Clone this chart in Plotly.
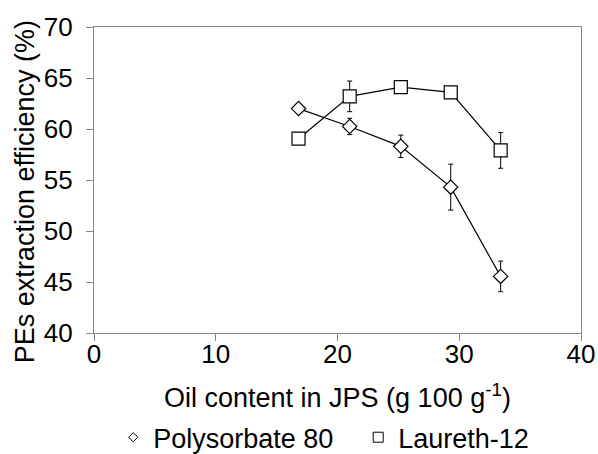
import plotly.graph_objects as go

oil_content = [16.8, 21.0, 25.2, 29.3, 33.4]
polysorbate80 = [62.0, 60.25, 58.3, 54.3, 45.55]
polysorbate80_err = [0.0, 0.8, 1.1, 2.25, 1.5]
laureth12 = [59.05, 63.2, 64.1, 63.6, 57.9]
laureth12_err = [0.0, 1.5, 0.0, 0.0, 1.75]

font_family = "Liberation Sans, Arial, sans-serif"

fig = go.Figure()
fig.add_trace(go.Scatter(
    x=oil_content, y=polysorbate80, name="Polysorbate 80", showlegend=False,
    mode="lines+markers",
    line=dict(color="black", width=1.2),
    marker=dict(symbol="diamond", size=11, color="white", line=dict(color="black", width=1.2)),
    error_y=dict(type="data", array=polysorbate80_err, visible=True, color="black", thickness=1, width=2.5),
))
fig.add_trace(go.Scatter(
    x=oil_content, y=laureth12, name="Laureth-12", showlegend=False,
    mode="lines+markers",
    line=dict(color="black", width=1.2),
    marker=dict(symbol="square", size=13, color="white", line=dict(color="black", width=1.2)),
    error_y=dict(type="data", array=laureth12_err, visible=True, color="black", thickness=1, width=2.5),
))
# legend entries (marker only, as in the reference)
fig.add_trace(go.Scatter(
    x=[None], y=[None], name="Polysorbate 80", mode="markers",
    marker=dict(symbol="diamond", size=7, color="white", line=dict(color="black", width=1)),
))
fig.add_trace(go.Scatter(
    x=[None], y=[None], name="Laureth-12", mode="markers",
    marker=dict(symbol="square", size=10, color="white", line=dict(color="black", width=1)),
))

fig.update_layout(
    width=598, height=454,
    margin=dict(l=94, r=17, t=27, b=121, autoexpand=False),
    plot_bgcolor="white", paper_bgcolor="white",
    font=dict(family=font_family, color="black", size=26),
    showlegend=True,
    legend=dict(orientation="h", xref="container", x=0.599, xanchor="center",
                yref="container", y=0.036, yanchor="middle",
                font=dict(size=27), itemwidth=30, tracegroupgap=0, entrywidth=200),
    annotations=[dict(
        text="PEs extraction efficiency (%)", textangle=-90,
        xref="paper", yref="paper", x=-0.1417, y=0.4635,
        xanchor="center", yanchor="middle", showarrow=False,
        font=dict(size=27, family=font_family, color="black"),
    )],
)
fig.update_xaxes(
    range=[0, 40], dtick=10, tick0=0, automargin=False,
    showline=True, linecolor="#888", linewidth=1.2, mirror=True,
    ticks="outside", ticklen=7, tickcolor="#888",
    showgrid=False, zeroline=False,
    tickfont=dict(size=26), ticklabelstandoff=-9,
    title=dict(text="Oil content in JPS (g 100 g<sup>-1</sup>)", font=dict(size=27), standoff=37),
)
fig.update_yaxes(
    range=[40, 70], dtick=5, tick0=40, automargin=False,
    showline=True, linecolor="#888", linewidth=1.2, mirror=True,
    ticks="outside", ticklen=7, tickcolor="#888",
    showgrid=False, zeroline=False,
    tickfont=dict(size=26), ticklabelstandoff=8,
)

fig.write_html("out.html")
